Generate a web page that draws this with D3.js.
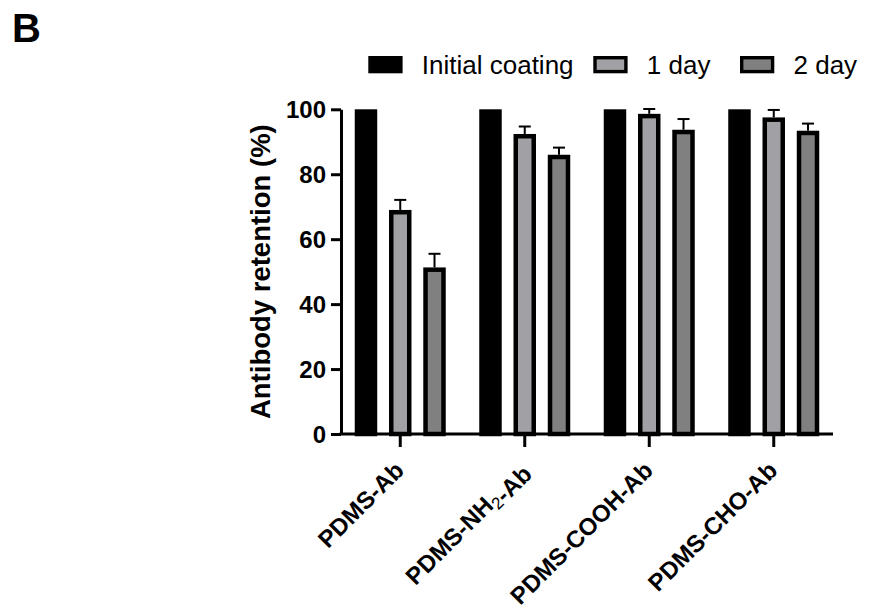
<!DOCTYPE html>
<html>
<head>
<meta charset="utf-8">
<script src="https://cdn.jsdelivr.net/npm/d3@7"></script>
<style>
  html, body { margin: 0; padding: 0; background: #fff; }
  svg { display: block; font-family: "Liberation Sans", Arial, sans-serif; }
</style>
</head>
<body>
<svg id="chart" width="877" height="611"></svg>
<script>
// ---- data ----
const categories = ["PDMS-Ab", "PDMS-NH2-Ab", "PDMS-COOH-Ab", "PDMS-CHO-Ab"];
const series = ["Initial coating", "1 day", "2 day"];
const initialCoating = [100, 100, 100, 100];
const day1 = [69.0, 92.4, 98.6, 97.5];
const day2 = [51.3, 86.0, 93.7, 93.4];
const initialErr = [0, 0, 0, 0];
const day1Err = [3.1, 2.3, 1.5, 2.3];
const day2Err = [4.2, 2.2, 3.3, 2.2];
const yTicks = [0, 20, 40, 60, 80, 100];
const yLabel = "Antibody retention (%)";
const panelLabel = "B";

const seriesValues = [initialCoating, day1, day2];
const seriesErrors = [initialErr, day1Err, day2Err];
const fills = ["#000000", "#a0a0a5", "#808080"];

// ---- layout ----
const svg = d3.select("#chart");
const axisX = 341, baseY = 434, topY = 109.3, axisEndX = 833;
const y = d3.scaleLinear().domain([0, 100]).range([baseY, topY]);
const x0 = d3.scaleBand().domain(categories).range([338, 836]).paddingInner(0).paddingOuter(0);
const x1 = d3.scaleBand().domain(series).range([-45.5, 45.5]).paddingInner(0.344).paddingOuter(0);
const sw = 4.5;

// panel label
svg.append("text").attr("x", 12).attr("y", 41.5)
  .attr("font-size", 40).attr("font-weight", "bold").attr("fill", "#000").text(panelLabel);

// bars
const rows = [];
categories.forEach((c, i) => {
  series.forEach((s, j) => {
    rows.push({ c, s, j, v: seriesValues[j][i], e: seriesErrors[j][i] });
  });
});

const g = svg.append("g");
rows.filter(d => d.e > 0).forEach(d => {
  const cx = x0(d.c) + x0.bandwidth() / 2 + x1(d.s) + x1.bandwidth() / 2;
  g.append("line").attr("x1", cx).attr("x2", cx)
    .attr("y1", y(d.v)).attr("y2", y(d.v + d.e))
    .attr("stroke", "#000").attr("stroke-width", 2);
  g.append("line").attr("x1", cx - 6).attr("x2", cx + 6)
    .attr("y1", y(d.v + d.e)).attr("y2", y(d.v + d.e))
    .attr("stroke", "#000").attr("stroke-width", 2);
});

g.selectAll("rect.bar").data(rows).join("rect")
  .attr("class", "bar")
  .attr("x", d => x0(d.c) + x0.bandwidth() / 2 + x1(d.s) + sw / 2)
  .attr("y", d => y(d.v) + sw / 2)
  .attr("width", x1.bandwidth() - sw)
  .attr("height", d => y(0) - y(d.v) - sw / 2)
  .attr("fill", d => fills[d.j])
  .attr("stroke", "#000")
  .attr("stroke-width", sw);

// y axis
const yAxis = svg.append("g").attr("transform", `translate(${axisX},0)`)
  .call(d3.axisLeft(y).tickValues(yTicks).tickSize(10).tickSizeOuter(0).tickPadding(5));
yAxis.select(".domain").attr("stroke-width", 3).attr("stroke", "#000");
yAxis.selectAll(".tick line").attr("stroke-width", 3).attr("stroke", "#000");
yAxis.selectAll(".tick text").attr("font-size", 24).attr("font-weight", "bold")
  .attr("fill", "#000").attr("font-family", "Liberation Sans, Arial, sans-serif")
  .attr("dy", "0.36em");

// x axis
const xAxis = svg.append("g").attr("transform", `translate(0,${baseY})`)
  .call(d3.axisBottom(x0).tickSize(13).tickSizeOuter(0).tickFormat(""));
xAxis.select(".domain").remove();
xAxis.selectAll(".tick line").attr("stroke-width", 3).attr("stroke", "#000");
svg.append("line").attr("x1", axisX - 1.5).attr("x2", axisEndX)
  .attr("y1", baseY).attr("y2", baseY).attr("stroke", "#000").attr("stroke-width", 3);

// x labels (rotated, with subscript digits)
categories.forEach(c => {
  const cx = x0(c) + x0.bandwidth() / 2;
  const t = svg.append("text")
    .attr("transform", `translate(${cx + 5},${baseY + 38}) rotate(-45)`)
    .attr("text-anchor", "end").attr("font-size", 24).attr("font-weight", "bold").attr("fill", "#000");
  const parts = c.split(/(\d)/);
  parts.forEach(p => {
    if (/^\d$/.test(p)) {
      t.append("tspan").attr("font-size", 17).attr("font-weight", "normal")
        .attr("dy", 5).text(p);
      t.append("tspan").attr("dy", -5).text("");
    } else if (p.length) {
      t.append("tspan").text(p);
    }
  });
});

// y label
svg.append("text")
  .attr("transform", `translate(270,${(baseY + topY) / 2}) rotate(-90)`)
  .attr("text-anchor", "middle").attr("font-size", 27.5).attr("font-weight", "bold")
  .attr("fill", "#000").text(yLabel);

// legend
const legendX = [368.3, 593.3, 740];
const legend = svg.append("g");
series.forEach((s, j) => {
  const lx = legendX[j];
  if (j === 0) {
    legend.append("rect").attr("x", lx).attr("y", 56).attr("width", 34.3).attr("height", 17.3).attr("fill", "#000");
  } else {
    legend.append("rect").attr("x", lx + 1.7).attr("y", 57.7).attr("width", 34.3 - 3.4).attr("height", 17.3 - 3.4)
      .attr("fill", fills[j]).attr("stroke", "#000").attr("stroke-width", 3.4);
  }
  legend.append("text").attr("x", lx + 53.5).attr("y", 73.5)
    .attr("font-size", 26).attr("fill", "#000").text(s);
});
</script>
</body>
</html>
